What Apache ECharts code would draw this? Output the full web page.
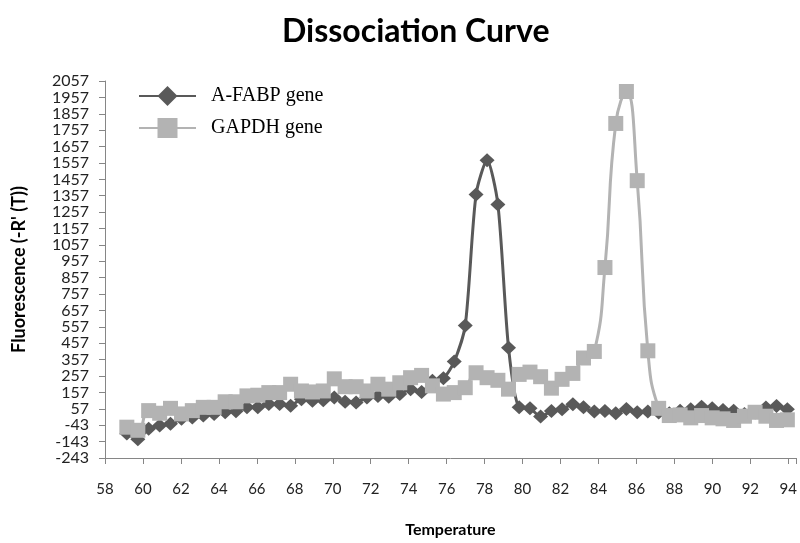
<!DOCTYPE html>
<html>
<head>
<meta charset="utf-8">
<title>Dissociation Curve</title>
<script src="https://cdn.jsdelivr.net/npm/echarts@6/dist/echarts.min.js"></script>
<style>
    html, body { margin: 0; padding: 0; background: #ffffff; }
    #chart { width: 800px; height: 543px; }
</style>
</head>
<body>
<div id="chart"></div>
<script>
// Temperatures (shared by both runs)
const temperatures = [
    59.15, 59.73, 60.3, 60.88, 61.45, 62.03, 62.6, 63.18, 63.75, 64.33,
    64.9, 65.48, 66.05, 66.63, 67.2, 67.78, 68.35, 68.93, 69.5, 70.08,
    70.65, 71.23, 71.8, 72.38, 72.95, 73.53, 74.1, 74.68, 75.25, 75.83,
    76.4, 76.98, 77.55, 78.13, 78.7, 79.26, 79.82, 80.39, 80.95, 81.52,
    82.08, 82.65, 83.21, 83.78, 84.34, 84.91, 85.47, 86.04, 86.6, 87.17,
    87.73, 88.3, 88.86, 89.43, 89.99, 90.56, 91.12, 91.69, 92.25, 92.82,
    93.38, 93.95
];

const afabpValues = [
    -94, -129, -64, -44, -34, -4, 4, 16, 26, 36,
    42, 66, 66, 86, 86, 76, 116, 106, 110, 126,
    100, 96, 126, 136, 130, 147, 177, 160, 228, 243,
    345, 566, 1365, 1574, 1304, 430, 66, 60, 10, 44,
    55, 85, 66, 40, 44, 30, 56, 36, 40, 35,
    30, 45, 55, 70, 60, 50, 45, 25, 35, 65,
    75, 55
];

const gapdhValues = [
    -55, -74, 46, 30, 60, 26, 46, 66, 66, 100,
    100, 136, 140, 156, 156, 207, 166, 160, 166, 240,
    192, 192, 166, 207, 177, 216, 247, 261, 197, 147,
    156, 186, 277, 247, 231, 177, 267, 281, 253, 183,
    237, 273, 367, 407, 919, 1798, 1993, 1449, 411, 60,
    16, 20, 2, 16, 2, -4, -14, 12, 36, 12,
    -14, -10
];

const seriesNames = ['A-FABP gene', 'GAPDH gene'];

const yMin = -243;
const yMax = 2057;
const yStep = 100;
const xMin = 58;
const xMax = 94.4;
const xStep = 2;

const chart = echarts.init(document.getElementById('chart'), null, {renderer: 'canvas'});

const axisGrey = '#868686';
const labelFont = 'Lato, "Open Sans", sans-serif';

const option = {
    animation: false,
    backgroundColor: '#ffffff',
    title: {
        text: 'Dissociation Curve',
        left: 277,
        top: 11,
        textStyle: {
            fontFamily: labelFont,
            fontWeight: 'bold',
            fontSize: 32,
            color: '#000000'
        }
    },
    legend: {
        data: seriesNames,
        orient: 'vertical',
        left: 133,
        top: 81,
        itemWidth: 57,
        itemHeight: 25,
        itemGap: 12,
        textStyle: {
            fontFamily: '"Liberation Serif", "Times New Roman", serif',
            fontSize: 20,
            color: '#000000',
            padding: [0, 0, 0, 10]
        }
    },
    grid: {
        left: 105,
        right: 0,
        top: 81,
        bottom: 80,
        containLabel: false
    },
    xAxis: {
        type: 'value',
        min: xMin,
        max: xMax,
        interval: xStep,
        name: 'Temperature',
        nameLocation: 'middle',
        nameGap: 64,
        nameTextStyle: {
            fontFamily: labelFont,
            fontWeight: 'bold',
            fontSize: 16,
            color: '#000000'
        },
        axisLine: {show: true, onZero: false, lineStyle: {color: axisGrey, width: 1}},
        axisTick: {show: true, length: 6, inside: false, lineStyle: {color: axisGrey}},
        axisLabel: {
            margin: 24,
            fontFamily: labelFont,
            fontSize: 15,
            color: '#222222',
            formatter: function (value) {
                return value % 2 === 0 ? String(value) : '';
            }
        },
        splitLine: {show: false}
    },
    yAxis: {
        type: 'value',
        min: yMin,
        max: yMax,
        interval: yStep,
        name: "Fluorescence (-R' (T))",
        nameLocation: 'middle',
        nameGap: 77,
        nameTextStyle: {
            fontFamily: labelFont,
            fontWeight: 'bold',
            fontSize: 18,
            color: '#000000'
        },
        axisLine: {show: true, lineStyle: {color: axisGrey, width: 1}},
        axisTick: {show: true, length: 6, inside: false, lineStyle: {color: axisGrey}},
        axisLabel: {
            margin: 16,
            fontFamily: labelFont,
            fontSize: 16,
            color: '#222222',
            formatter: function (value) {
                return String(Math.round(value));
            }
        },
        splitLine: {show: false}
    },
    series: [
        {
            name: seriesNames[0],
            type: 'line',
            smooth: 0.25,
            symbol: 'diamond',
            symbolSize: [15, 14],
            showAllSymbol: true,
            itemStyle: {color: '#595959'},
            lineStyle: {color: '#595959', width: 3},
            data: temperatures.map((t, i) => [t, afabpValues[i]])
        },
        {
            name: seriesNames[1],
            type: 'line',
            smooth: 0.5,
            symbol: 'rect',
            symbolSize: 15,
            showAllSymbol: true,
            itemStyle: {color: '#b3b3b3'},
            lineStyle: {color: '#b3b3b3', width: 3},
            data: temperatures.map((t, i) => [t, gapdhValues[i]])
        }
    ]
};

chart.setOption(option);
</script>
</body>
</html>
